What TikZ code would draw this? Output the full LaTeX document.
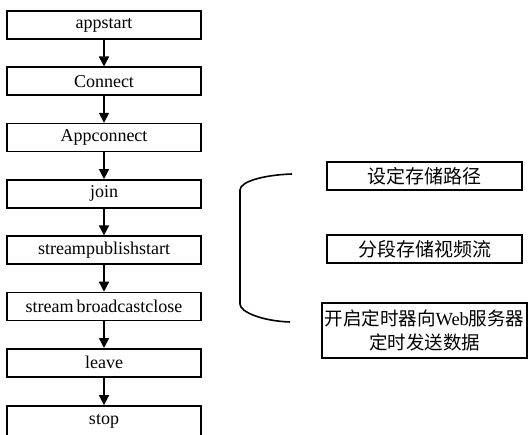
\documentclass[tikz,border=0pt]{standalone}
\usepackage{fontspec}
\setmainfont{Liberation Serif}
\newfontfamily\serifone{Liberation Serif}
\newfontfamily\cjk{Noto Sans CJK SC}
\usetikzlibrary{arrows.meta}
\begin{document}
\begin{tikzpicture}[x=1pt,y=-1pt,
  box/.style={draw, line width=1.6pt, minimum width=194pt, minimum height=28pt, inner sep=0pt, font=\serifone\fontsize{18}{21}\selectfont},
  rbox/.style={draw, line width=1.6pt, minimum width=195pt, minimum height=28pt, inner sep=0pt, font=\fontsize{19}{23}\selectfont\cjk},
  arr/.style={line width=1.6pt, -{Triangle[length=10pt,width=10pt]}}]
\useasboundingbox (0,0) rectangle (529,435);
\node[box] (a) at (104,25) {appstart};
\node[box] (b) at (104,81.3) {Connect};
\node[box] (c) at (104,137.6) {Appconnect};
\node[box] (d) at (104,193.9) {join};
\node[box] (e) at (104,250.2) {streampublishstart};
\node[box] (f) at (104,306.5) {stream\,broadcastclose};
\node[box] (g) at (104,362.8) {leave};
\node[box, minimum height=32pt, anchor=north] (h) at (104,405.1) {\raisebox{5pt}{stop}};
\draw[arr] (a) -- (b);
\draw[arr] (b) -- (c);
\draw[arr] (c) -- (d);
\draw[arr] (d) -- (e);
\draw[arr] (e) -- (f);
\draw[arr] (f) -- (g);
\draw[arr] (g) -- (h);
\node[rbox] (r1) at (424.5,176) {设定存储路径};
\node[rbox] (r2) at (424.5,249) {分段存储视频流};
\node[rbox, minimum width=205pt, minimum height=55pt, align=center, font=\fontsize{18.5}{24}\selectfont\cjk] (r3) at (424.5,330.5) {开启定时器向{\serifone Web}服务器\\定时发送数据};
\draw[line width=1.6pt] (292,174) .. controls (262,175) and (240,182) .. (240,190) -- (240,304) .. controls (240,312) and (262,321) .. (290,322);
\end{tikzpicture}
\end{document}
